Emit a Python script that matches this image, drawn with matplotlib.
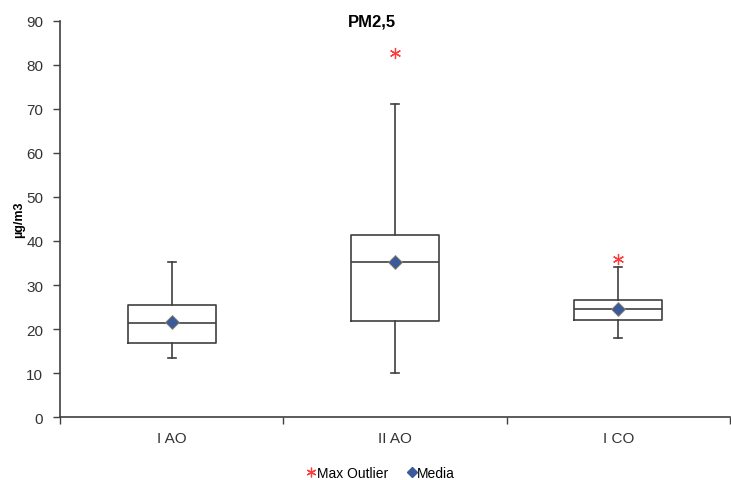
import numpy as np
import matplotlib
matplotlib.use('Agg')
import matplotlib.pyplot as plt
from matplotlib.lines import Line2D

plt.rcParams['font.family'] = ['Liberation Sans', 'DejaVu Sans']

# dati PM2,5
categorie = ['I AO', 'II AO', 'I CO']
minimo = [13.4, 10.0, 18.0]
q1 = [16.9, 21.9, 22.0]
mediana = [21.4, 35.3, 24.5]
q3 = [25.5, 41.4, 26.7]
massimo = [35.2, 71.1, 34.2]
media = [21.5, 35.3, 24.6]
max_outlier = [np.nan, 82.7, 35.9]

col_box = '#404040'
col_media = '#3A5A9A'
col_out = '#FF3B3B'

fig = plt.figure(figsize=(7.31, 4.81), dpi=100)
ax = fig.add_axes([60/731, 1-418/481, 670/731, 396/481])

stats = []
for i in range(len(categorie)):
    stats.append({'whislo': minimo[i], 'q1': q1[i], 'med': mediana[i],
                  'q3': q3[i], 'whishi': massimo[i], 'fliers': []})
pos = np.arange(len(categorie))
ax.bxp(stats, positions=pos, widths=0.395, capwidths=0.035, showfliers=False,
       boxprops=dict(color=col_box, lw=1.2),
       whiskerprops=dict(color=col_box, lw=1.2),
       capprops=dict(color=col_box, lw=1.2),
       medianprops=dict(color=col_box, lw=1.2))

ax.plot(pos, media, ls='none', marker='D', ms=7.5, mfc=col_media, mec='#9a8a6a', mew=0.6, zorder=5)
ax.plot(pos, max_outlier, ls='none', marker=(6, 2, 0), ms=8, mec=col_out, mew=0.9, zorder=5)

ax.set_xlim(-0.5, len(categorie) - 0.5)
ax.set_ylim(0, 90)
ax.set_yticks(np.arange(0, 91, 10))
ax.set_xticks(pos)
ax.set_xticklabels(categorie, fontsize=11, color='#333333')
ax.set_xticks(np.arange(-0.5, len(categorie), 1), minor=True)
ax.tick_params(axis='x', which='major', length=0, pad=10)
ax.tick_params(axis='x', which='minor', length=5, width=1, color='#404040')
ax.tick_params(axis='y', length=5, width=1, color='#404040', labelsize=11, labelcolor='#333333', pad=7)
for s in ['top', 'right']:
    ax.spines[s].set_visible(False)
for s in ['left', 'bottom']:
    ax.spines[s].set_color('#404040')
    ax.spines[s].set_linewidth(1.2)

ax.set_ylabel('µg/m3', fontsize=9, fontweight='bold', labelpad=1)
fig.text(372/731, 1-22/481, 'PM2,5', fontsize=12, fontweight='bold', ha='center', va='center')

handles = [Line2D([], [], ls='none', marker=(6, 2, 0), ms=7, mec=col_out, mew=0.9),
           Line2D([], [], ls='none', marker='D', ms=5, mfc=col_media, mec=col_media)]
fig.legend(handles, ['Max Outlier', 'Media'], loc='center', bbox_to_anchor=(381/731, 1-474/481),
           ncol=2, frameon=False, fontsize=10, handlelength=0.6, handletextpad=0.1, columnspacing=1.4)

fig.savefig('out.png', dpi=100)
